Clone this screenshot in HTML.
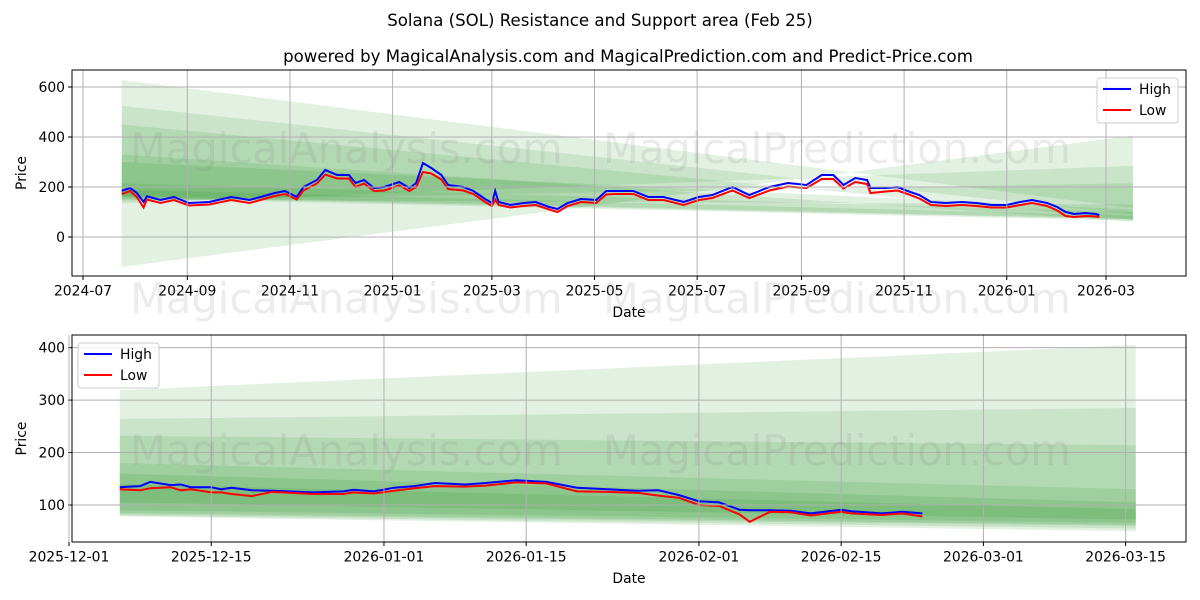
<!DOCTYPE html>
<html><head><meta charset="utf-8"><style>
body{margin:0;background:#fff;}
svg{display:block;font-family:"DejaVu Sans","Liberation Sans",sans-serif;}
</style></head><body>
<svg id="chart" width="1200" height="600" viewBox="0 0 1200 600" xmlns="http://www.w3.org/2000/svg">
<rect width="1200" height="600" fill="#fff"/>
<text x="600" y="26" text-anchor="middle" font-size="16.6">Solana (SOL) Resistance and Support area (Feb 25)</text>
<text x="628" y="62" text-anchor="middle" font-size="16.6">powered by MagicalAnalysis.com and MagicalPrediction.com and Predict-Price.com</text>
<g id="top"></g>
<g id="bot"></g>
</svg>
<script>
// ---------- top chart data (day offset from 2024-07-01) ----------
const topDays=[23,28,32,36,38,46,54,63,75,88,99,114,120,127,131,139,144,151,158,162,167,173,179,188,194,198,202,207,213,217,226,232,239,243,245,247,254,262,269,277,282,288,296,305,311,316,327,336,345,357,366,374,386,396,408,419,430,439,446,452,459,466,468,477,484,490,497,504,513,522,531,540,549,557,564,573,579,584,589,596,602,604];
const topHigh=[185,196,176,140,163,148,160,136,140,160,148,176,184,160,200,228,268,248,248,216,228,196,200,220,196,216,296,276,248,208,200,184,152,136,184,140,128,136,140,120,112,136,152,148,184,184,184,160,160,140,160,168,200,168,200,216,208,248,248,208,236,228,196,196,200,184,168,140,136,140,136,128,128,140,148,136,120,100,92,96,92,88];
const topLow=[172,184,160,118,150,136,148,126,130,148,136,164,172,150,186,214,250,234,234,200,214,184,186,206,184,200,260,254,230,192,186,172,140,124,150,128,118,124,128,110,100,124,140,136,170,172,172,148,148,128,148,156,186,156,186,202,196,232,232,194,220,212,176,182,186,172,154,128,124,128,124,118,118,128,136,124,106,84,80,84,82,80];
const topTicksV=[0,200,400,600];
const topTickLabels=["2024-07","2024-09","2024-11","2025-01","2025-03","2025-05","2025-07","2025-09","2025-11","2026-01","2026-03"];
const topTickDays=[0,62,123,184,243,304,365,427,488,549,608];
const topBandStart=23, topBandEnd=624;
const topBandLeftTop=[628,525,450,330,300,215,190];
const topBandLeftBot=[-120,135,145,150,160,155,165];
const topBandRightTop=[116,90,70,62,110,100,85];
const topBandRightBot=[406,285,215,130,70,65,72];
// ---------- bottom chart data (day offset from 2025-12-01) ----------
const botDays=[5,7,8,10,11,12,14,15,16,18,20,24,27,28,30,32,34,36,39,41,44,47,50,53,56,58,60,62,64,66,67,69,71,73,76,77,80,82,84];
const botHigh=[134,136,144,138,139,134,134,130,133,128,127,124,126,129,126,133,136,142,139,142,147,144,133,130,127,128,119,107,105,91,90,90,89,84,91,88,84,87,84];
const botLow=[130,128,132,134,128,130,124,124,121,117,125,121,121,124,122,127,132,136,135,137,143,141,126,125,123,118,114,100,98,82,68,87,86,80,87,84,81,84,78];
const botTicksV=[100,200,300,400];
const botTickLabels=["2025-12-01","2025-12-15","2026-01-01","2026-01-15","2026-02-01","2026-02-15","2026-03-01","2026-03-15"];
const botTickDays=[0,14,31,45,62,76,90,104];
const botBandStart=5, botBandEnd=105;
const botBandLeftTop=[319,264,232,180,160,140];
const botBandLeftBot=[78,80,82,85,90,105];
const botBandRightTop=[405,285,214,130,105,92];
const botBandRightBot=[50,55,60,62,66,72];

const NS="http://www.w3.org/2000/svg";
function mk(tag,attrs,parent){const e=document.createElementNS(NS,tag);for(const k in attrs)e.setAttribute(k,attrs[k]);parent.appendChild(e);return e;}

function drawPanel(g,cfg){
  const {x0,x1,y0,y1,sx,sy}=cfg;
  const clip=mk('clipPath',{id:cfg.id+'clip'},g);
  mk('rect',{x:x0,y:y0,width:x1-x0,height:y1-y0},clip);
  const plot=mk('g',{'clip-path':'url(#'+cfg.id+'clip)'},g);
  for(let i=0;i<cfg.bLT.length;i++){
    const p=[[sx(cfg.bs),sy(cfg.bLT[i])],[sx(cfg.be),sy(cfg.bRT[i])],[sx(cfg.be),sy(cfg.bRB[i])],[sx(cfg.bs),sy(cfg.bLB[i])]];
    const poly=mk('polygon',{points:p.map(q=>q.join(',')).join(' '),fill:'#008000','fill-opacity':'0.11'},plot);
    
    
  }
  cfg.tv.forEach(v=>{const l=mk('line',{x1:x0,x2:x1,y1:sy(v),y2:sy(v),stroke:'#b0b0b0','stroke-width':1},g);
    
    mk('line',{x1:x0-4,x2:x0,y1:sy(v),y2:sy(v),stroke:'#000'},g);
    const t=mk('text',{x:x0-7,y:sy(v)+5,'text-anchor':'end','font-size':13.9},g);t.textContent=v;
    });
  cfg.td.forEach((d,i)=>{const x=sx(d);const l=mk('line',{x1:x,x2:x,y1:y0,y2:y1,stroke:'#b0b0b0','stroke-width':1},g);
    
    mk('line',{x1:x,x2:x,y1:y1,y2:y1+4,stroke:'#000'},g);
    const t=mk('text',{x:x,y:y1+19.5,'text-anchor':'middle','font-size':13.9},g);t.textContent=cfg.tl[i];
    });
  cfg.wm.forEach(w=>{const t=mk('text',{x:w[0],y:w[1],'font-size':41.6,fill:'#808080','fill-opacity':'0.15'},g);t.textContent=w[2];
    });
  const path=(arr)=>cfg.days.map((d,i)=>(i?'L':'M')+sx(d).toFixed(1)+','+sy(arr[i]).toFixed(1)).join('');
  const hl=mk('path',{d:path(cfg.high),fill:'none',stroke:'#0000ff','stroke-width':2},plot);
  
  const ll=mk('path',{d:path(cfg.low),fill:'none',stroke:'#ff0000','stroke-width':2},plot);
  
  const fr=mk('rect',{x:x0,y:y0,width:x1-x0,height:y1-y0,fill:'none',stroke:'#000','stroke-width':1},g);
  
  const xt=mk('text',{x:(x0+x1)/2,y:y1+41,'text-anchor':'middle','font-size':13.9},g);xt.textContent='Date';
  
  const yt=mk('text',{x:0,y:0,'text-anchor':'middle','font-size':13.9,transform:'translate(26,'+((y0+y1)/2)+') rotate(-90)'},g);yt.textContent='Price';
  
  const [lx,ly]=cfg.leg;
  const lg=mk('g',{},g);
  
  mk('rect',{x:lx,y:ly,width:81,height:45,rx:3,fill:'#fff','fill-opacity':0.8,stroke:'#ccc'},lg);
  mk('line',{x1:lx+6,x2:lx+34,y1:ly+11,y2:ly+11,stroke:'#0000ff','stroke-width':2},lg);
  mk('line',{x1:lx+6,x2:lx+34,y1:ly+32,y2:ly+32,stroke:'#ff0000','stroke-width':2},lg);
  const t1=mk('text',{x:lx+42,y:ly+16,'font-size':13.9},lg);t1.textContent='High';
  
  const t2=mk('text',{x:lx+42,y:ly+37,'font-size':13.9},lg);t2.textContent='Low';
  
}

drawPanel(document.getElementById('top'),{id:'t',x0:72,x1:1186,y0:70,y1:276,
  sx:d=>83+d*1.6826, sy:v=>237-v*0.25,
  tv:topTicksV,td:topTickDays,tl:topTickLabels,
  days:topDays,high:topHigh,low:topLow,
  bs:topBandStart,be:topBandEnd,bLT:topBandLeftTop,bLB:topBandLeftBot,bRT:topBandRightTop,bRB:topBandRightBot,
  wm:[[130,163,'MagicalAnalysis.com'],[603,163,'MagicalPrediction.com'],[130,313,'MagicalAnalysis.com'],[603,313,'MagicalPrediction.com']],
  leg:[1097,78]});
drawPanel(document.getElementById('bot'),{id:'b',x0:72,x1:1186,y0:335,y1:542,
  sx:d=>69+d*10.16, sy:v=>505-(v-100)*0.5245,
  tv:botTicksV,td:botTickDays,tl:botTickLabels,
  days:botDays,high:botHigh,low:botLow,
  bs:botBandStart,be:botBandEnd,bLT:botBandLeftTop,bLB:botBandLeftBot,bRT:botBandRightTop,bRB:botBandRightBot,
  wm:[[130,465,'MagicalAnalysis.com'],[603,465,'MagicalPrediction.com']],
  leg:[78,343]});
</script>
</body></html>
